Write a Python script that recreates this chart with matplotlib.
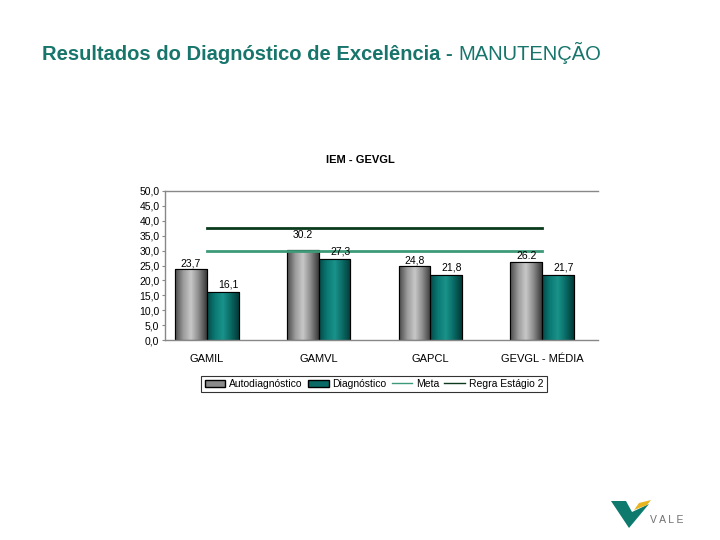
import matplotlib.pyplot as plt
import numpy as np
from matplotlib.patches import Patch, Polygon
from matplotlib.lines import Line2D
from matplotlib.colors import LinearSegmentedColormap

plt.rcParams['font.family'] = ['Liberation Sans', 'DejaVu Sans']

categories = ["GAMIL", "GAMVL", "GAPCL", "GEVGL - MÉDIA"]
autodiag = [23.7, 30.2, 24.8, 26.2]
diag = [16.1, 27.3, 21.8, 21.7]
auto_labels = ["23,7", "30.2", "24,8", "26.2"]
diag_labels = ["16,1", "27,3", "21,8", "21,7"]
meta = 30.0
regra = 37.5
yticks = [0, 5, 10, 15, 20, 25, 30, 35, 40, 45, 50]

teal_title = "#17756b"
gray_cmap = LinearSegmentedColormap.from_list("g", ["#4a4a4a", "#9a9a9a", "#c8c8c8", "#8a8a8a", "#3a3a3a"])
teal_cmap = LinearSegmentedColormap.from_list("t", ["#034a48", "#0b7a74", "#1a938a", "#0a6a64", "#023a38"])

fig = plt.figure(figsize=(7.2, 5.4), dpi=100)

# page title, bold part then regular part
t1 = fig.text(42 / 720, 1 - 60 / 540, "Resultados do Diagnóstico de Excelência - ",
              fontsize=14.5, fontweight="bold", color=teal_title, va="baseline", ha="left")
fig.canvas.draw()
bb = t1.get_window_extent()
fig.text(bb.x1 / 720, 1 - 60 / 540, "MANUTENÇÃO", fontsize=14.5, color=teal_title,
         va="baseline", ha="left")

ax = fig.add_axes([165 / 720, 1 - 340 / 540, 433 / 720, 149 / 540])
fig.text(360 / 720, 1 - 160 / 540, "IEM - GEVGL", fontsize=8, fontweight="bold",
         ha="center", va="center")

x = np.arange(len(categories))
w = 0.285
grad = np.linspace(0, 1, 64).reshape(1, -1)

bars_a = ax.bar(x - w / 2, autodiag, w, color="#888888", edgecolor="black", linewidth=0.8, zorder=2)
bars_d = ax.bar(x + w / 2, diag, w, color="#0a6b66", edgecolor="black", linewidth=0.8, zorder=2)
for bars, cmap in [(bars_a, gray_cmap), (bars_d, teal_cmap)]:
    for b in bars:
        x0, h, bw = b.get_x(), b.get_height(), b.get_width()
        im = ax.imshow(grad, extent=[x0, x0 + bw, 0, h], aspect="auto", cmap=cmap, zorder=2.1)
        im.set_clip_path(b)
        ax.add_patch(Polygon([[x0, 0], [x0, h], [x0 + bw, h], [x0 + bw, 0]], closed=True,
                             fill=False, edgecolor="black", linewidth=0.8, zorder=2.2))

ax.plot([x[0], x[-1]], [meta, meta], color="#3d9a78", lw=2, zorder=3)
ax.plot([x[0], x[-1]], [regra, regra], color="#0b3b1c", lw=2, zorder=3)

# value labels (30.2 sits higher in the original)
offs_a = [0.3, 3.5, 0.3, 0.3]
for i in range(len(categories)):
    ax.text(x[i] - w / 2, autodiag[i] + offs_a[i], auto_labels[i], ha="center", va="bottom", fontsize=7.5, zorder=4)
    ax.text(x[i] + w / 2 + 0.05, diag[i] + 0.8, diag_labels[i], ha="center", va="bottom", fontsize=7.5, zorder=4)

ax.set_xlim(-0.375, 3.5)
ax.set_ylim(0, 50)
ax.set_yticks(yticks)
ax.set_yticklabels([f"{v:.1f}".replace(".", ",") for v in yticks], fontsize=7.5)
ax.set_xticks(x)
ax.set_xticklabels(categories, fontsize=8)
ax.tick_params(axis="x", length=0, pad=10)
ax.tick_params(axis="y", length=2, pad=2, color="#888888")
for s in ["left", "bottom", "top"]:
    ax.spines[s].set_color("#888888")
    ax.spines[s].set_linewidth(1)
ax.spines["right"].set_visible(False)

handles = [Patch(facecolor="#8a8a8a", edgecolor="black", label="Autodiagnóstico"),
           Patch(facecolor="#0a6b66", edgecolor="black", label="Diagnóstico"),
           Line2D([], [], color="#3d9a78", lw=1, label="Meta"),
           Line2D([], [], color="#0b3b1c", lw=1, label="Regra Estágio 2")]
leg = fig.legend(handles=handles, loc="center", bbox_to_anchor=(374 / 720, 1 - 384 / 540), ncol=4,
                 fontsize=7.5, frameon=True, fancybox=False, edgecolor="black",
                 handlelength=2.0, handleheight=0.7, handletextpad=0.35, columnspacing=0.5,
                 borderpad=0.3)
leg.get_frame().set_linewidth(0.8)

# VALE logo
fig.patches.append(Polygon([[611 / 720, 1 - 501 / 540], [626 / 720, 1 - 501 / 540],
                            [632 / 720, 1 - 512 / 540], [649 / 720, 1 - 504 / 540],
                            [629 / 720, 1 - 528 / 540]], closed=True, transform=fig.transFigure,
                           facecolor="#0e7a6e", edgecolor="none"))
fig.patches.append(Polygon([[634 / 720, 1 - 510 / 540], [639 / 720, 1 - 503 / 540],
                            [651 / 720, 1 - 500 / 540], [647 / 720, 1 - 505 / 540]], closed=True,
                           transform=fig.transFigure, facecolor="#e8b520", edgecolor="none"))
fig.text(650 / 720, 1 - 520 / 540, "V A L E", fontsize=7.5, color="#707070", ha="left", va="center")

fig.savefig("out.png", dpi=100)
